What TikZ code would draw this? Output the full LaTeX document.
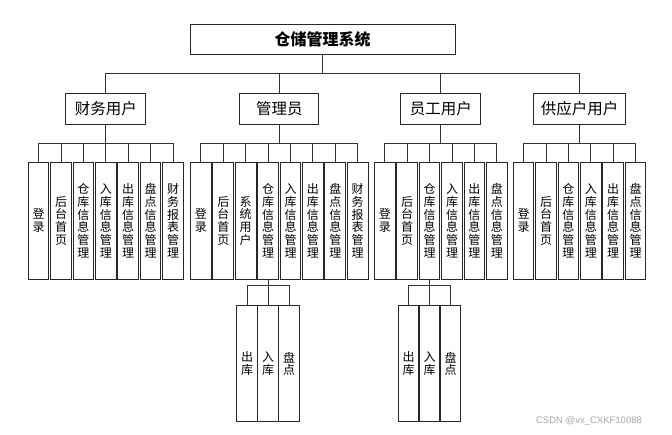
\documentclass[tikz,border=0pt]{standalone}
\usepackage{fontspec}
\newfontfamily\cjk{Noto Sans CJK SC}
\newfontfamily\wmfont{Liberation Sans}
\begin{document}
\begin{tikzpicture}[x=1pt,y=-1pt,
  box/.style={draw=black!85,line width=1pt,fill=white,inner sep=0pt},
  titlebox/.style={box,minimum width=265pt,minimum height=30pt,font=\cjk\bfseries\fontsize{16}{18}\selectfont},
  rolebox/.style={box,minimum height=31pt,font=\cjk\fontsize{15.5}{17}\selectfont},
  leafbox/.style={box,minimum width=20.7pt,minimum height=117pt,align=center,font=\cjk\fontsize{12}{12.7}\selectfont},
  subbox/.style={box,minimum width=20.7pt,minimum height=116.3pt,align=center,font=\cjk\fontsize{12}{12.7}\selectfont},
  conn/.style={draw=black!80,line width=1pt},
  wm/.style={text=black!35,font=\wmfont\fontsize{9.5}{11}\selectfont,inner sep=0pt}
]
\useasboundingbox (0,0) rectangle (672,435);

\node[titlebox] (title) at (322.5,39.3) {仓储管理系统};

\node[rolebox,minimum width=80.3pt] (A) at (105.8,108.9) {财务用户};
\node[rolebox,minimum width=79pt]   (B) at (279.3,108.9) {管理员};
\node[rolebox,minimum width=80pt]   (C) at (440.8,108.9) {员工用户};
\node[rolebox,minimum width=92.3pt] (D) at (579.6,108.9) {供应户用户};

\coordinate (bus0) at (0,73.3);
\foreach \r in {A,B,C,D}
  \draw[conn] (title.south) -- (title.south |- bus0) -| (\r.north);

\coordinate (bus1) at (0,143.3);

% group A
\foreach \t [count=\k from 0] in {{登\\录},{后\\台\\首\\页},{仓\\库\\信\\息\\管\\理},{入\\库\\信\\息\\管\\理},{出\\库\\信\\息\\管\\理},{盘\\点\\信\\息\\管\\理},{财\\务\\报\\表\\管\\理}}{
  \node[leafbox] (A\k) at ({105.8+(\k-3)*22.4},220.8) {\t};
  \draw[conn] (A.south) -- (A.south |- bus1) -| (A\k.north);
}
% group B
\foreach \t [count=\k from 0] in {{登\\录},{后\\台\\首\\页},{系\\统\\用\\户},{仓\\库\\信\\息\\管\\理},{入\\库\\信\\息\\管\\理},{出\\库\\信\\息\\管\\理},{盘\\点\\信\\息\\管\\理},{财\\务\\报\\表\\管\\理}}{
  \node[leafbox] (B\k) at ({279.3+(\k-3.5)*22.4},220.8) {\t};
  \draw[conn] (B.south) -- (B.south |- bus1) -| (B\k.north);
}
% group C
\foreach \t [count=\k from 0] in {{登\\录},{后\\台\\首\\页},{仓\\库\\信\\息\\管\\理},{入\\库\\信\\息\\管\\理},{出\\库\\信\\息\\管\\理},{盘\\点\\信\\息\\管\\理}}{
  \node[leafbox] (C\k) at ({440.8+(\k-2.5)*22.4},220.8) {\t};
  \draw[conn] (C.south) -- (C.south |- bus1) -| (C\k.north);
}
% group D
\foreach \t [count=\k from 0] in {{登\\录},{后\\台\\首\\页},{仓\\库\\信\\息\\管\\理},{入\\库\\信\\息\\管\\理},{出\\库\\信\\息\\管\\理},{盘\\点\\信\\息\\管\\理}}{
  \node[leafbox] (D\k) at ({579.6+(\k-2.5)*22.4},220.8) {\t};
  \draw[conn] (D.south) -- (D.south |- bus1) -| (D\k.north);
}

\coordinate (bus2) at (0,285.7);
% sub group under B3
\foreach \t [count=\k from 0] in {{出\\库},{入\\库},{盘\\点}}{
  \node[subbox] (BS\k) at ({268.1+(\k-1)*21},363.8) {\t};
  \draw[conn] (B3.south) -- (B3.south |- bus2) -| (BS\k.north);
}
% sub group under C2
\foreach \t [count=\k from 0] in {{出\\库},{入\\库},{盘\\点}}{
  \node[subbox] (CS\k) at ({429.6+(\k-1)*21},363.8) {\t};
  \draw[conn] (C2.south) -- (C2.south |- bus2) -| (CS\k.north);
}

\node[wm] (wmark) at (589,420.7) {CSDN @vx\_CXKF10088};
\end{tikzpicture}
\end{document}
